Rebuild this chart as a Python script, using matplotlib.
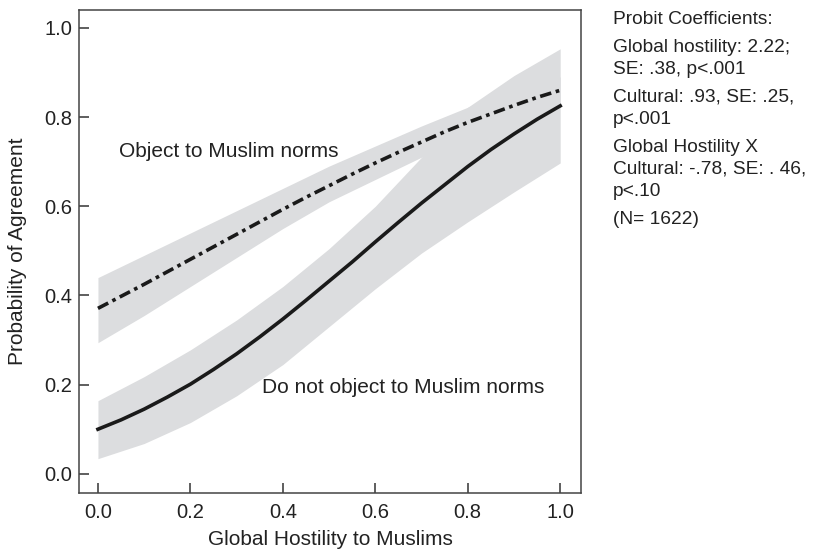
import matplotlib
matplotlib.use('Agg')
from matplotlib import pyplot as plt

plt.rcParams['font.family'] = ['Liberation Sans', 'DejaVu Sans']

# predicted probabilities by global hostility
hostility = [0.0, 0.05, 0.1, 0.15, 0.2, 0.25, 0.3, 0.35, 0.4, 0.45, 0.5,
             0.55, 0.6, 0.65, 0.7, 0.75, 0.8, 0.85, 0.9, 0.95, 1.0]
object_fit = [0.371, 0.398, 0.425, 0.453, 0.481, 0.509, 0.537, 0.565, 0.593, 0.620, 0.646,
              0.672, 0.697, 0.721, 0.744, 0.767, 0.788, 0.807, 0.826, 0.844, 0.860]
noobject_fit = [0.100, 0.121, 0.145, 0.172, 0.201, 0.234, 0.269, 0.307, 0.347, 0.389, 0.432,
                0.475, 0.520, 0.564, 0.607, 0.648, 0.689, 0.727, 0.762, 0.795, 0.825]

# 95% bands
band_x = [0.0, 0.1, 0.2, 0.3, 0.4, 0.5, 0.6, 0.7, 0.8, 0.9, 1.0]
object_lo = [0.294, 0.355, 0.42, 0.485, 0.55, 0.61, 0.66, 0.71, 0.75, 0.79, 0.83]
object_hi = [0.44, 0.49, 0.54, 0.59, 0.64, 0.69, 0.735, 0.78, 0.822, 0.86, 0.89]
noobject_lo = [0.034, 0.068, 0.115, 0.175, 0.245, 0.33, 0.415, 0.495, 0.565, 0.632, 0.697]
noobject_hi = [0.164, 0.218, 0.278, 0.345, 0.42, 0.505, 0.60, 0.71, 0.822, 0.893, 0.953]

xticks = [0.0, 0.2, 0.4, 0.6, 0.8, 1.0]
yticks = [0.0, 0.2, 0.4, 0.6, 0.8, 1.0]

# side notes: (baseline in pixels from top, text)
notes = [
    (24, 'Probit Coefficients:'),
    (52, 'Global hostility: 2.22;'),
    (74, 'SE: .38, p<.001'),
    (102, 'Cultural: .93, SE: .25,'),
    (124, 'p<.001'),
    (152, 'Global Hostility X'),
    (174, 'Cultural: -.78, SE: . 46,'),
    (196, 'p<.10'),
    (224, '(N= 1622)'),
]

W, H = 813, 550
fig = plt.figure(figsize=(W / 100, H / 100), dpi=100)
ax = fig.add_axes([79 / W, 57 / H, 502 / W, 483 / H])

band = '#dcdddf'
ax.fill_between(band_x, object_lo, object_hi, color=band, lw=0)
ax.fill_between(band_x, noobject_lo, noobject_hi, color=band, lw=0)

ax.plot(hostility, object_fit, color='#1a1a1a', lw=2.6,
        dashes=(3.2, 1.3, 1.0, 1.3), solid_capstyle='butt')
ax.plot(hostility, noobject_fit, color='#1a1a1a', lw=2.6)

ax.text(0.045, 0.722, 'Object to Muslim norms', fontsize=15, va='center', color='#222222')
ax.text(0.355, 0.193, 'Do not object to Muslim norms', fontsize=15, va='center', color='#222222')

ax.set_xlim(-0.041, 1.045)
ax.set_ylim(-0.043, 1.04)
ax.set_xticks(xticks)
ax.set_yticks(yticks)
ax.set_xticklabels(['%.1f' % t for t in xticks])
ax.set_yticklabels(['%.1f' % t for t in yticks])
ax.tick_params(direction='in', length=7, width=1.1, color='#333333',
               labelsize=14.5, labelcolor='#222222')
ax.tick_params(axis='x', pad=7)
ax.tick_params(axis='y', pad=5)
for s in ax.spines.values():
    s.set_color('#444444')
    s.set_linewidth(1.1)

ax.set_xlabel('Global Hostility to Muslims', fontsize=15, color='#222222', labelpad=6)
ax.set_ylabel('Probability of Agreement', fontsize=15, color='#222222', labelpad=12)

for py, txt in notes:
    fig.text(613 / W, 1 - py / H, txt, fontsize=13.8, va='baseline', ha='left',
             color='#222222')

fig.savefig('out.png', dpi=100)
